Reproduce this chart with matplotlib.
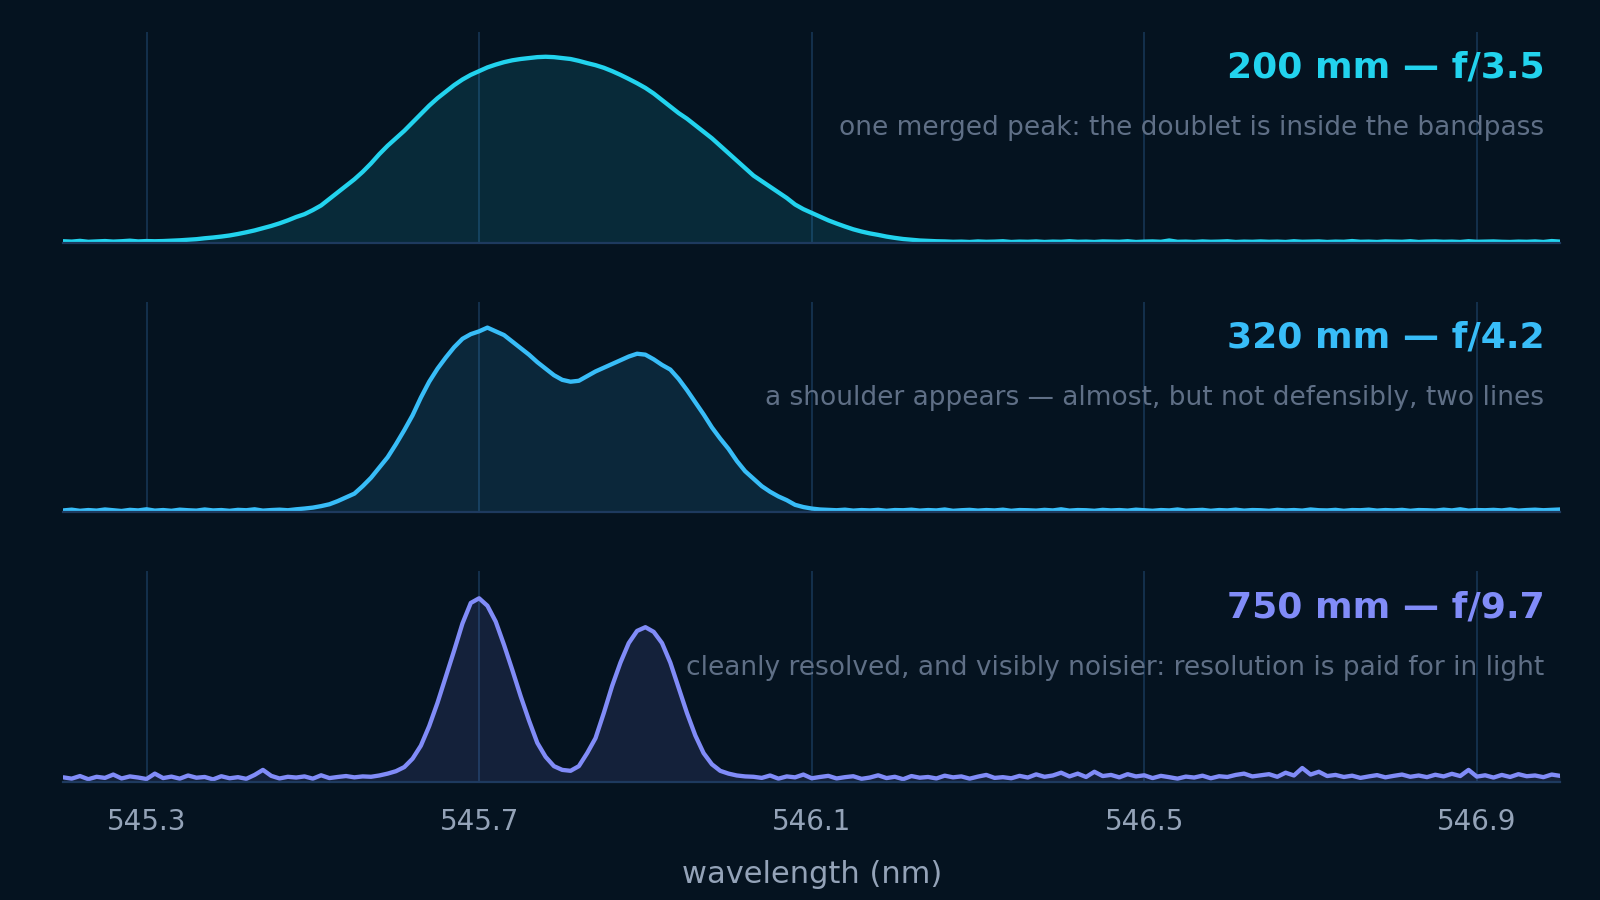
import numpy as np
import matplotlib
matplotlib.use("Agg")
import matplotlib.pyplot as plt

# ---------------- data ----------------
wavelength = np.linspace(545.20, 547.00, 181)          # nm, 0.01 nm sampling
tick_values = [545.3, 545.7, 546.1, 546.5, 546.9]
tick_labels = ["545.3", "545.7", "546.1", "546.5", "546.9"]

titles = ["200 mm \u2014 f/3.5", "320 mm \u2014 f/4.2", "750 mm \u2014 f/9.7"]
notes = ["one merged peak: the doublet is inside the bandpass",
         "a shoulder appears \u2014 almost, but not defensibly, two lines",
         "cleanly resolved, and visibly noisier: resolution is paid for in light"]
colors = ["#22d3ee", "#38bdf8", "#818cf8"]

spec_200mm = [
    0.008, 0.006, 0.010, 0.005, 0.007, 0.009, 0.006, 0.008, 0.011, 0.007, 0.009,
    0.008, 0.009, 0.011, 0.013, 0.016, 0.019, 0.024, 0.028, 0.033, 0.039,
    0.047, 0.056, 0.066, 0.078, 0.090,
    0.104, 0.120, 0.138, 0.153, 0.175, 0.200, 0.235, 0.270, 0.305, 0.340,
    0.380, 0.425, 0.475, 0.520, 0.560,
    0.600, 0.645, 0.690, 0.735, 0.775, 0.810, 0.845, 0.875, 0.900, 0.920,
    0.940, 0.955, 0.968, 0.978, 0.985,
    0.990, 0.995, 0.997, 0.995, 0.990, 0.985, 0.975, 0.963, 0.952, 0.938,
    0.920, 0.900, 0.878, 0.855, 0.830,
    0.800, 0.765, 0.730, 0.695, 0.665, 0.630, 0.595, 0.560, 0.520, 0.480,
    0.440, 0.400, 0.360, 0.330, 0.300,
    0.270, 0.240, 0.205, 0.180, 0.160, 0.140, 0.120, 0.103, 0.087, 0.072,
    0.060, 0.050, 0.042, 0.033, 0.026,
    0.020, 0.016, 0.012, 0.010, 0.008,
    0.007, 0.005, 0.006, 0.004, 0.007, 0.005, 0.006, 0.008, 0.004, 0.006,
    0.005, 0.007, 0.004, 0.006, 0.005, 0.008, 0.005, 0.006, 0.004, 0.007,
    0.006, 0.005, 0.008, 0.004, 0.006, 0.007, 0.005, 0.012, 0.005, 0.006,
    0.004, 0.007, 0.005, 0.006, 0.008, 0.004, 0.006, 0.005, 0.007, 0.005,
    0.006, 0.004, 0.008, 0.005, 0.006, 0.007, 0.004, 0.006, 0.005, 0.009,
    0.005, 0.006, 0.004, 0.007, 0.006, 0.005, 0.008, 0.004, 0.006, 0.007,
    0.005, 0.006, 0.004, 0.008, 0.005, 0.006, 0.007, 0.005, 0.004, 0.006,
    0.005, 0.007, 0.004, 0.009, 0.006,
]

spec_320mm = [
    0.010, 0.014, 0.008, 0.012, 0.009, 0.015, 0.011, 0.007, 0.013, 0.010,
    0.016, 0.009, 0.012, 0.008, 0.014, 0.011, 0.009, 0.015, 0.010, 0.012,
    0.008, 0.013, 0.011, 0.016, 0.009, 0.012, 0.014, 0.011, 0.016,
    0.020, 0.025, 0.033, 0.043, 0.060, 0.080, 0.100, 0.140, 0.185, 0.240,
    0.295, 0.365,
    0.440, 0.520, 0.615, 0.700, 0.770, 0.830, 0.885, 0.930, 0.955, 0.970,
    0.990, 0.970, 0.950, 0.915, 0.880, 0.845, 0.805, 0.770, 0.735, 0.710,
    0.700, 0.705, 0.730, 0.755, 0.775, 0.795, 0.815, 0.835, 0.850, 0.845,
    0.820, 0.790, 0.765, 0.715, 0.655, 0.590, 0.525, 0.455, 0.395, 0.340,
    0.275, 0.220, 0.180, 0.140, 0.110, 0.085, 0.065, 0.040, 0.028, 0.020,
    0.015,
    0.013, 0.011, 0.014, 0.009, 0.012, 0.010, 0.013, 0.008, 0.012, 0.011,
    0.014, 0.009, 0.012, 0.010, 0.015, 0.008, 0.011, 0.013, 0.009, 0.012,
    0.010, 0.014, 0.008, 0.012, 0.011, 0.009, 0.013, 0.010, 0.016, 0.009,
    0.012, 0.011, 0.008, 0.013, 0.010, 0.012, 0.009, 0.014, 0.011, 0.008,
    0.012, 0.010, 0.015, 0.009, 0.011, 0.013, 0.008, 0.012, 0.010, 0.014,
    0.009, 0.012, 0.011, 0.008, 0.013, 0.010, 0.012, 0.009, 0.015, 0.011,
    0.010, 0.013, 0.008, 0.012, 0.011, 0.014, 0.009, 0.012, 0.010, 0.013,
    0.008, 0.012, 0.011, 0.009, 0.014, 0.010, 0.016, 0.009, 0.012, 0.011,
    0.013, 0.010, 0.015, 0.009, 0.012, 0.014, 0.011, 0.013, 0.015,
]

spec_750mm = [
    0.025, 0.018, 0.032, 0.015, 0.028, 0.022, 0.040, 0.019, 0.030, 0.024,
    0.016, 0.045, 0.021, 0.029, 0.018, 0.035, 0.023, 0.027, 0.014, 0.031,
    0.020, 0.026, 0.017, 0.038, 0.065, 0.033, 0.019, 0.028, 0.024, 0.030,
    0.018, 0.036, 0.021, 0.027, 0.032,
    0.025, 0.030, 0.028, 0.035, 0.045, 0.058, 0.080, 0.125, 0.195, 0.300,
    0.425, 0.565, 0.705, 0.850, 0.960, 0.985, 0.945, 0.860, 0.735, 0.600,
    0.460, 0.330, 0.210, 0.135, 0.085, 0.065, 0.060, 0.085, 0.155, 0.235,
    0.370, 0.515, 0.640, 0.745, 0.810, 0.830, 0.805, 0.745, 0.640, 0.505,
    0.370, 0.250, 0.155, 0.095, 0.060, 0.045, 0.035, 0.030,
    0.028, 0.022, 0.035, 0.018, 0.030, 0.025, 0.040, 0.020, 0.027, 0.033,
    0.019, 0.026, 0.031, 0.017, 0.024, 0.036, 0.021, 0.028, 0.015, 0.032,
    0.023, 0.027, 0.019, 0.034, 0.025, 0.030, 0.018, 0.029, 0.038, 0.022,
    0.026, 0.020, 0.033, 0.024, 0.041, 0.028, 0.035, 0.050, 0.030, 0.045,
    0.027, 0.055, 0.032, 0.038, 0.025, 0.042, 0.030, 0.036, 0.021, 0.033,
    0.026, 0.018, 0.029, 0.024, 0.034, 0.020, 0.031, 0.027, 0.038, 0.045,
    0.030, 0.036, 0.042, 0.028, 0.050, 0.035, 0.075, 0.040, 0.055, 0.032,
    0.038, 0.027, 0.034, 0.022, 0.030, 0.037, 0.025, 0.033, 0.040, 0.028,
    0.035, 0.026, 0.039, 0.030, 0.044, 0.032, 0.065, 0.029, 0.036, 0.024,
    0.038, 0.027, 0.042, 0.031, 0.035, 0.026, 0.040, 0.033,
]

spectra = [spec_200mm, spec_320mm, spec_750mm]
for s in spectra:
    assert len(s) == len(wavelength), len(s)

# ---------------- style ----------------
BG = "#051320"
GRID = "#14304d"
SPINE = "#1e3a5f"
NOTE = "#5f6f86"
TICK = "#94a3b8"

plt.rcParams["font.family"] = ["DejaVu Sans"]

fig = plt.figure(figsize=(8, 4.5), dpi=200, facecolor=BG)

left, width, height = 0.0396, 0.9354, 0.2342
bottoms = [0.7303, 0.4308, 0.1311]

for i, (spec, col, ttl, note, yb) in enumerate(zip(spectra, colors, titles, notes, bottoms)):
    ax = fig.add_axes([left, yb, width, height])
    ax.set_facecolor(BG)
    y = np.asarray(spec)
    ax.fill_between(wavelength, 0, y, color=col, alpha=0.12, lw=0, zorder=1)
    ax.plot(wavelength, y, color=col, lw=1.55, zorder=3,
            solid_joinstyle="round", solid_capstyle="round")
    ax.set_xlim(545.2, 547.0)
    ax.set_ylim(0, 1.13)
    ax.set_xticks(tick_values)
    ax.set_yticks([])
    ax.grid(axis="x", color=GRID, lw=0.7)
    ax.set_axisbelow(True)
    for side in ["top", "left", "right"]:
        ax.spines[side].set_visible(False)
    ax.spines["bottom"].set_color(SPINE)
    ax.spines["bottom"].set_linewidth(0.8)
    ax.spines["bottom"].set_zorder(4)
    ax.tick_params(axis="x", length=0, pad=9.3, labelsize=10, labelcolor=TICK)
    if i < 2:
        ax.set_xticklabels([])
    else:
        ax.set_xticklabels(tick_labels)
    ax.text(0.9895, 0.782, ttl, transform=ax.transAxes, ha="right", va="baseline",
            fontsize=13, fontweight="bold", color=col, zorder=5)
    ax.text(0.9895, 0.509, note, transform=ax.transAxes, ha="right", va="baseline",
            fontsize=9.5, color=NOTE, zorder=5)

fig.text(left + width / 2, 0.0185, "wavelength (nm)", ha="center", va="baseline",
         fontsize=11, color=TICK)

fig.savefig("out.png", dpi=200, facecolor=BG)
